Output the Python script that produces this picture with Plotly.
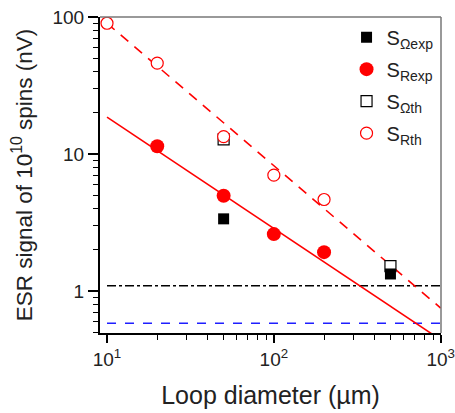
import plotly.graph_objects as go

# Data
d_omega_exp = [50, 500]
s_omega_exp = [3.36, 1.33]
d_R_exp = [20, 50, 100, 200]
s_R_exp = [11.4, 4.95, 2.6, 1.92]
d_omega_th = [50, 500]
s_omega_th = [12.8, 1.52]
d_R_th = [10, 20, 50, 100, 200]
s_R_th = [90, 46, 13.4, 7.0, 4.65]

fit_x = [10, 1000]
fit_R_exp = [18.6, 0.44]
fit_R_th = [90, 0.75]
noise_x = [10, 1000]
noise_black = [1.09, 1.09]
noise_blue = [0.58, 0.58]

x_major = [10, 100, 1000]
x_major_text = ["10<sup>1</sup>", "10<sup>2</sup>", "10<sup>3</sup>"]
y_major = [1, 10, 100]
y_major_text = ["1", "10", "100"]
x_minor = [m * d for d in (10, 100) for m in range(2, 10)]
y_minor = [m * d for d in (0.1, 1, 10) for m in range(2, 10) if m * d >= 0.49]

FONT = "Liberation Sans, Arial, sans-serif"
fig = go.Figure()

fig.add_trace(go.Scatter(x=noise_x, y=noise_black, mode="lines",
                         line=dict(color="black", width=1.5, dash="dashdot"), showlegend=False))
fig.add_trace(go.Scatter(x=noise_x, y=noise_blue, mode="lines",
                         line=dict(color="#1f1fff", width=1.5, dash="dash"), showlegend=False))
fig.add_trace(go.Scatter(x=fit_x, y=fit_R_exp, mode="lines",
                         line=dict(color="red", width=1.6), showlegend=False))
fig.add_trace(go.Scatter(x=fit_x, y=fit_R_th, mode="lines",
                         line=dict(color="red", width=1.6, dash="10px,8px"), showlegend=False))

fig.add_trace(go.Scatter(x=d_omega_th, y=s_omega_th, mode="markers", name="S<sub>Ωth</sub>",
                         legendgroup="c", legendrank=3,
                         marker=dict(symbol="square", size=11, color="white",
                                     line=dict(color="black", width=1.2))))
fig.add_trace(go.Scatter(x=d_R_th, y=s_R_th, mode="markers", name="S<sub>Rth</sub>",
                         legendgroup="d", legendrank=4,
                         marker=dict(symbol="circle", size=12, color="white",
                                     line=dict(color="red", width=1.2))))
fig.add_trace(go.Scatter(x=d_omega_exp, y=s_omega_exp, mode="markers", name="S<sub>Ωexp</sub>",
                         legendgroup="a", legendrank=1,
                         marker=dict(symbol="square", size=11, color="black",
                                     line=dict(width=0))))
fig.add_trace(go.Scatter(x=d_R_exp, y=s_R_exp, mode="markers", name="S<sub>Rexp</sub>",
                         legendgroup="b", legendrank=2,
                         marker=dict(symbol="circle", size=14, color="red",
                                     line=dict(width=0))))

fig.update_layout(
    width=455, height=413,
    margin=dict(l=100, r=14, t=17, b=80),
    paper_bgcolor="white", plot_bgcolor="white",
    font=dict(family=FONT, color="#222", size=19),
    showlegend=True,
    legend=dict(x=0.723, y=0.998, xanchor="left", yanchor="top",
                bgcolor="rgba(0,0,0,0)", font=dict(size=20), tracegroupgap=3,
                itemwidth=30),
)
fig.update_xaxes(
    type="log", range=[0.958, 3.002], automargin=False,
    tickvals=x_major, ticktext=x_major_text,
    ticks="outside", ticklen=8, tickwidth=1.5, tickcolor="black",
    minor=dict(tickvals=x_minor, ticks="outside", ticklen=5, tickwidth=1.2,
               tickcolor="black", showgrid=False),
    showline=True, linecolor="black", linewidth=2, mirror=False,
    showgrid=False, zeroline=False,
    title=dict(text="Loop diameter (µm)", font=dict(size=25), standoff=18),
)
fig.update_yaxes(
    type="log", range=[-0.307, 2.0], automargin=False,
    tickvals=y_major, ticktext=y_major_text,
    ticks="outside", ticklen=10, tickwidth=1.5, tickcolor="black",
    minor=dict(tickvals=y_minor, ticks="outside", ticklen=5, tickwidth=1.2,
               tickcolor="black", showgrid=False),
    showline=True, linecolor="black", linewidth=2, mirror=False,
    showgrid=False, zeroline=False,
    title=dict(text="ESR signal of 10<sup>10</sup> spins (nV)", font=dict(size=22.5), standoff=14),
)
# grey top/right frame
fig.add_shape(type="line", xref="paper", yref="paper", x0=0, x1=1, y0=1, y1=1,
              line=dict(color="#777", width=1.5))
fig.add_shape(type="line", xref="paper", yref="paper", x0=1, x1=1, y0=0, y1=1,
              line=dict(color="#777", width=1.5))

fig.write_html("out.html", config={"displayModeBar": False},
               post_script="document.body.style.margin='0';")
